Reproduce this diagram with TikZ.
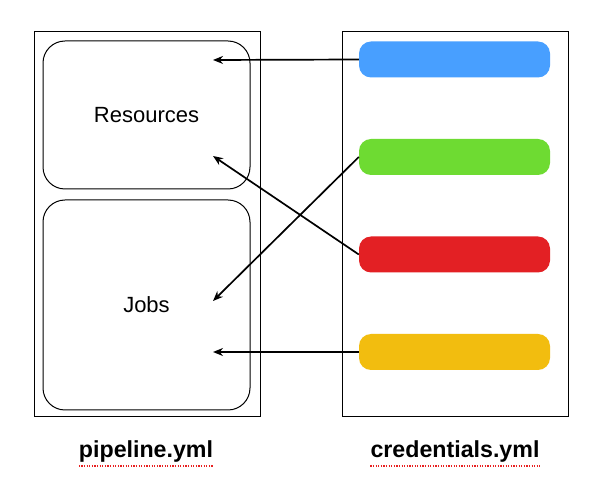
\documentclass[tikz,border=0pt]{standalone}
\usepackage{fontspec}
\setmainfont{Liberation Sans}
\usetikzlibrary{arrows.meta}
\definecolor{cblue}{HTML}{489FFF}
\definecolor{cgreen}{HTML}{6EDB32}
\definecolor{cred}{HTML}{E32024}
\definecolor{cyellow}{HTML}{F2BD0F}
\definecolor{spell}{HTML}{E82020}
\begin{document}
\begin{tikzpicture}[x=1pt,y=-1pt,
  outerbox/.style={draw,line width=1pt,minimum width=226pt,minimum height=385pt,inner sep=0pt},
  section/.style={draw,line width=1pt,rounded corners=22pt,minimum width=207pt,inner sep=0pt,font=\fontsize{22}{26}\selectfont},
  bar/.style={fill=#1,draw=none,rounded corners=12pt,minimum width=191pt,minimum height=36pt,inner sep=0pt},
  conn/.style={line width=1.7pt,-{Stealth[length=10pt,width=8pt]}},
  filelabel/.style={font=\fontsize{23.2}{28}\selectfont\bfseries,inner sep=0pt},
  squiggle/.style={spell,line width=1.4pt,dash pattern=on 1.3pt off 1.3pt}]
\useasboundingbox (0,0) rectangle (590,478);
\fill[white] (0,0) rectangle (590,478);
\node[outerbox] (pipe) at (147,224.5) {};
\node[outerbox] (cred) at (455.5,224.5) {};
\node[section,minimum height=148pt] (res) at (146.5,115) {Resources};
\node[section,minimum height=210pt] (jobs) at (146.5,305) {Jobs};
\node[bar=cblue] (b1) at (454.5,59.5) {};
\node[bar=cgreen] (b2) at (454.5,157) {};
\node[bar=cred] (b3) at (454.5,254.5) {};
\node[bar=cyellow] (b4) at (454.5,352) {};
\coordinate (r1) at (213,60);
\coordinate (r2) at (213,156);
\coordinate (j1) at (213,301);
\coordinate (j2) at (213,352);
\draw[conn] (b1.west) -- (r1);
\draw[conn] (b3.west) -- (r2);
\draw[conn] (b2.west) -- (j1);
\draw[conn] (b4.west) -- (j2);
\node[filelabel] (lp) at (146,452) {pipeline.yml};
\node[filelabel] (lc) at (455,452) {credentials.yml};
\draw[squiggle] ([yshift=-3pt]lp.south west) -- ([yshift=-3pt]lp.south east);
\draw[squiggle] ([yshift=-3pt]lc.south west) -- ([yshift=-3pt]lc.south east);
\end{tikzpicture}
\end{document}
